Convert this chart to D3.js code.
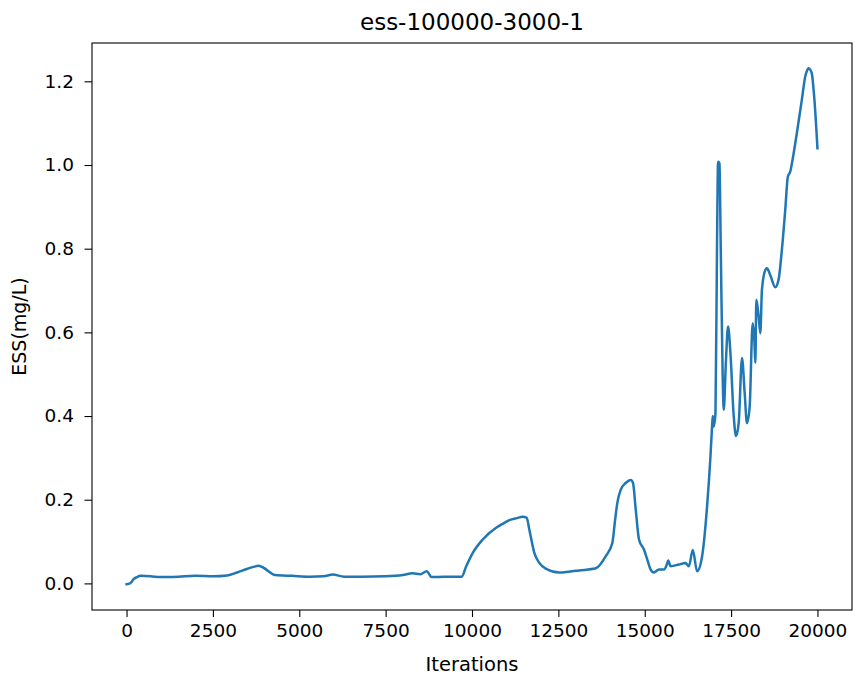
<!DOCTYPE html>
<html>
<head>
<meta charset="utf-8">
<script src="https://cdn.jsdelivr.net/npm/d3@7"></script>
<style>
  html, body { margin: 0; padding: 0; background: #fff; }
  text { font-family: "DejaVu Sans", sans-serif; fill: #000; }
</style>
</head>
<body>
<svg id="chart" width="858" height="681"></svg>
<script>
const chartTitle = "ess-100000-3000-1";
const xLabel = "Iterations";
const yLabel = "ESS(mg/L)";
const xTicks = [0, 2500, 5000, 7500, 10000, 12500, 15000, 17500, 20000];
const yTicks = [0.0, 0.2, 0.4, 0.6, 0.8, 1.0, 1.2];

const iterations = [
  0, 100, 150, 200, 300, 400, 700, 980, 1500, 2000, 2500, 2915, 3200, 3500, 3700, 3810, 3950, 4300,
  4800, 5310, 5700, 5970, 6300, 6800, 7500, 8000, 8280, 8500, 8690, 8830, 9200, 9700,
  9833, 10023, 10312, 10698, 10900, 11082, 11300, 11466, 11581, 11659, 11804, 11948, 12141, 12525,
  12800, 13102, 13584, 13873, 14064, 14140, 14208, 14306, 14450, 14595, 14661, 14739, 14834,
  14978, 15074, 15172, 15267, 15411, 15556, 15640, 15680, 15749, 15989, 16182, 16277,
  16392, 16516, 16661, 16805, 16903, 16949, 16970, 16999, 17048, 17094, 17123, 17163,
  17201, 17258, 17287, 17350, 17412, 17481, 17576, 17643, 17720, 17816, 17893, 17960, 18038,
  18124, 18173, 18202, 18231, 18297, 18346, 18393, 18491, 18537, 18634, 18779, 18874,
  18970, 19068, 19143, 19212, 19278, 19403, 19547, 19645, 19700, 19740, 19790, 19836, 19913, 20000
];
const essValues = [
  -0.002, 0.000, 0.004, 0.010, 0.015, 0.018, 0.017, 0.015, 0.016, 0.018, 0.017, 0.019, 0.026, 0.035, 0.040, 0.042, 0.038, 0.020,
  0.018, 0.016, 0.017, 0.021, 0.016, 0.016, 0.017, 0.020, 0.024, 0.022, 0.029, 0.015, 0.016, 0.016,
  0.041, 0.073, 0.105, 0.133, 0.143, 0.151, 0.156, 0.159, 0.157, 0.129, 0.073, 0.049, 0.035, 0.026,
  0.028, 0.031, 0.036, 0.065, 0.097, 0.150, 0.193, 0.224, 0.240, 0.247, 0.240, 0.177, 0.105,
  0.081, 0.057, 0.033, 0.026, 0.033, 0.033, 0.045, 0.055, 0.041, 0.045, 0.049, 0.041,
  0.080, 0.029, 0.065, 0.184, 0.304, 0.375, 0.400, 0.375, 0.407, 0.821, 1.008, 1.004,
  0.800, 0.487, 0.415, 0.530, 0.614, 0.550, 0.400, 0.352, 0.383, 0.539, 0.455, 0.383, 0.423,
  0.622, 0.582, 0.527, 0.678, 0.638, 0.598, 0.702, 0.749, 0.753, 0.737, 0.708, 0.726,
  0.797, 0.893, 0.972, 0.984, 1.012, 1.076, 1.155, 1.211, 1.226, 1.231, 1.228, 1.219, 1.155, 1.040
];

const W = 858, H = 681;
const margin = { left: 92, right: 6, top: 43, bottom: 71 };
const svg = d3.select("#chart");

const x = d3.scaleLinear().domain([-1000, 21000]).range([margin.left, W - margin.right]);
const y = d3.scaleLinear().domain([-0.0636, 1.2916]).range([H - margin.bottom, margin.top]);

const plotW = W - margin.left - margin.right;
const plotH = H - margin.top - margin.bottom;

// line
const line = d3.line().x((d, i) => x(iterations[i])).y(d => y(d)).curve(d3.curveMonotoneX);
svg.append("path")
  .datum(essValues)
  .attr("d", line)
  .attr("fill", "none")
  .attr("stroke", "#1f77b4")
  .attr("stroke-width", 2.5)
  .attr("stroke-linejoin", "round")
  .attr("stroke-linecap", "square");

// axes
const xAxis = d3.axisBottom(x).tickValues(xTicks).tickFormat(d3.format("d")).tickSize(7).tickPadding(7);
const yAxis = d3.axisLeft(y).tickValues(yTicks).tickFormat(d3.format(".1f")).tickSize(7.5).tickPadding(10.5);

const gx = svg.append("g").attr("transform", `translate(0,${H - margin.bottom})`).call(xAxis);
const gy = svg.append("g").attr("transform", `translate(${margin.left},0)`).call(yAxis);
[gx, gy].forEach(g => {
  g.select(".domain").remove();
  g.selectAll(".tick line").attr("stroke", "#000").attr("stroke-width", 1.1);
  g.selectAll(".tick text").style("font-size", "18.5px").attr("fill", "#000");
});

// frame
svg.append("rect")
  .attr("x", margin.left).attr("y", margin.top)
  .attr("width", plotW).attr("height", plotH)
  .attr("fill", "none").attr("stroke", "#000").attr("stroke-width", 1.1);

// title & labels
svg.append("text")
  .attr("x", margin.left + plotW / 2).attr("y", 30)
  .attr("text-anchor", "middle").style("font-size", "23px")
  .text(chartTitle);
svg.append("text")
  .attr("x", x(10000)).attr("y", 671)
  .attr("text-anchor", "middle").style("font-size", "19.5px")
  .text(xLabel);
svg.append("text")
  .attr("transform", `translate(26,${margin.top + plotH / 2}) rotate(-90)`)
  .attr("text-anchor", "middle").style("font-size", "19px")
  .text(yLabel);
</script>
</body>
</html>
